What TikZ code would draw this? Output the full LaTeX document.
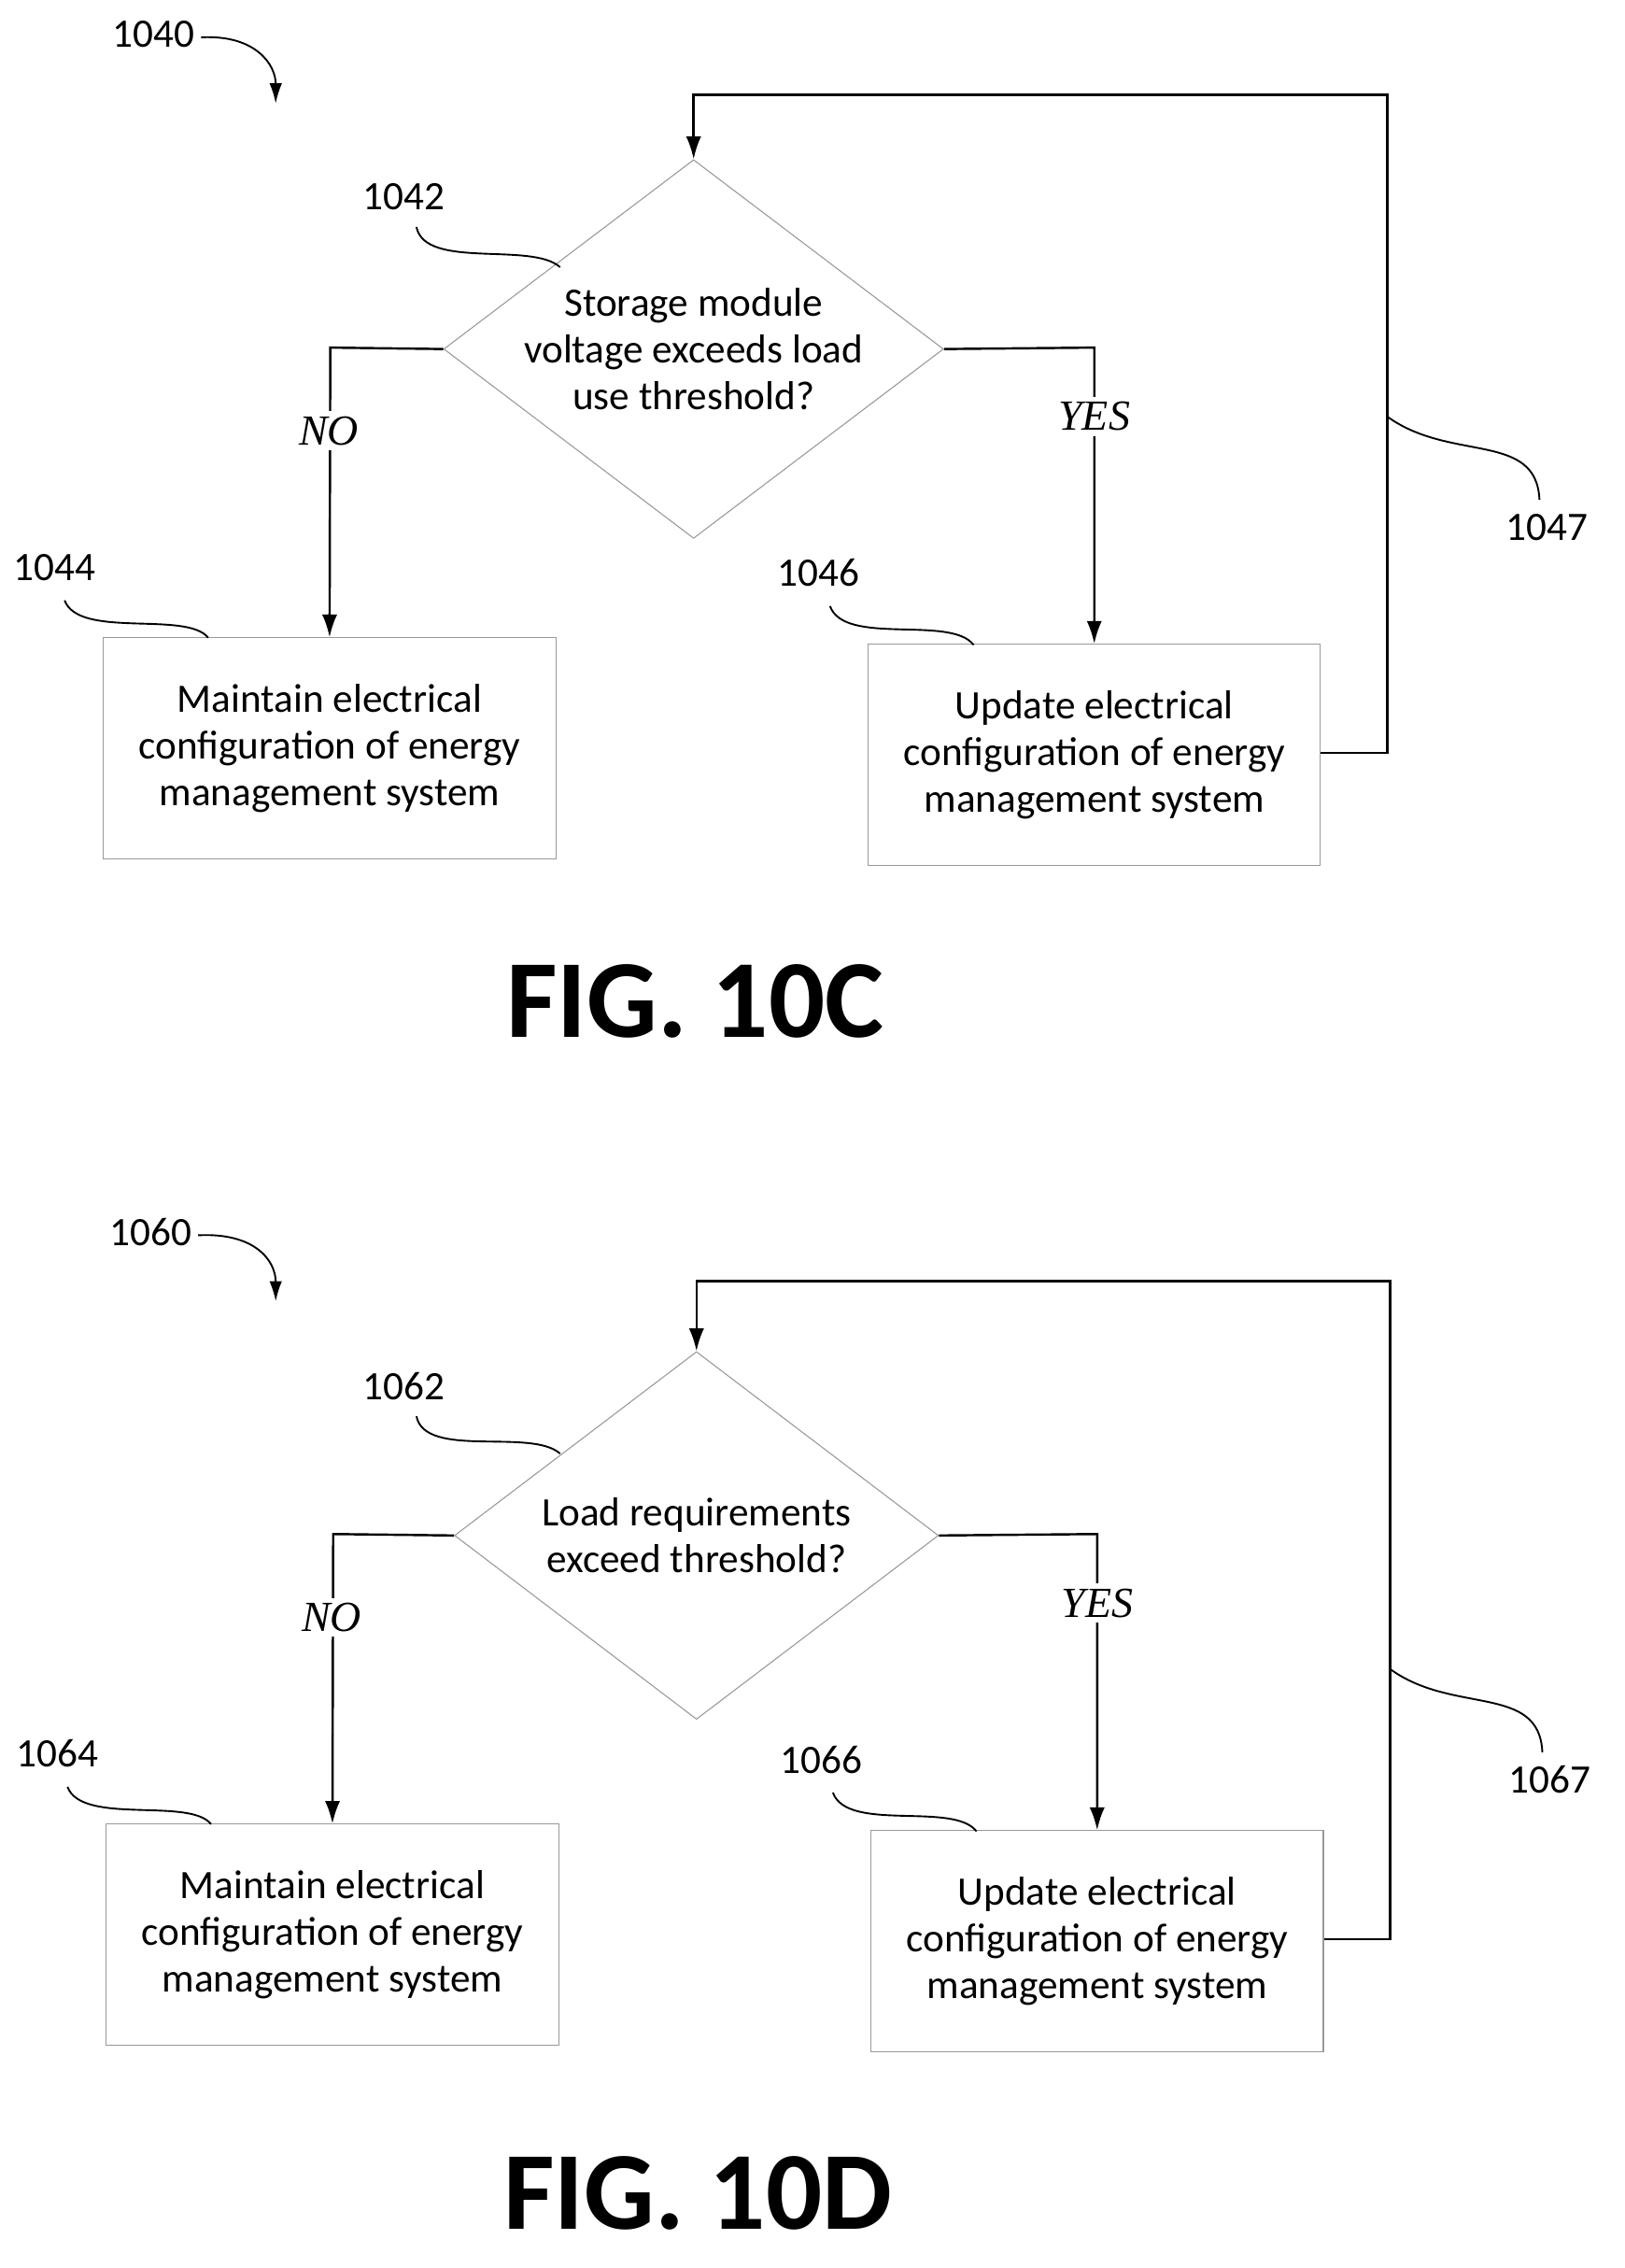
\documentclass[tikz,border=0pt]{standalone}
\usepackage{fontspec}
\setmainfont{Carlito}
\newfontfamily\yesnofont{Liberation Serif}
\usetikzlibrary{arrows.meta,shapes.geometric}
\tikzset{
  decision/.style={diamond, aspect=1.32, draw=gray!80, thin, minimum width=337*0.02cm, minimum height=256*0.02cm, inner sep=0pt, align=center, font=\fontsize{16}{18.5}\selectfont},
  action/.style={rectangle, draw=gray!80, thin, minimum width=315*0.02cm, minimum height=154*0.02cm, align=center, font=\fontsize{16}{18.5}\selectfont},
  refnum/.style={font=\fontsize{16}{18}\selectfont},
  branch/.style={fill=white, inner sep=2pt, font=\yesnofont\itshape\fontsize{17}{20}\selectfont},
  flow/.style={-{Latex[length=9pt,width=6pt]}, line width=0.9pt},
  lead/.style={line width=0.7pt},
  figlabel/.style={font=\bfseries\fontsize{44}{50}\selectfont}
}
\begin{document}
\begin{tikzpicture}[x=0.02cm, y=-0.02cm]
\useasboundingbox (0,0) rectangle (1131,1579);
%%%%% FIG. 10C %%%%%
\node[refnum] (n1040) at (107,24) {1040};
\draw[lead,-{Latex[length=8pt,width=5pt]}] (140,26) .. controls (178,24) and (192,45) .. (192,72);
\node[decision] (d1042) at (483,243) {Storage module\\voltage exceeds load\\use threshold?};
\node[action] (b1044) at (229.5,521) {Maintain electrical\\configuration of energy\\management system};
\node[action] (b1046) at (762,525.5) {Update electrical\\configuration of energy\\management system};
\coordinate (c1l) at (230,242);
\coordinate (c1r) at (762,242);
\coordinate (c1a) at (966,524);
\coordinate (c1b) at (966,66);
\coordinate (c1c) at (483,66);
\draw[flow] (d1042.west) -- (c1l) -- (b1044.north);
\draw[flow] (d1042.east) -- (c1r) -- (b1046.north);
\draw[flow] (b1046.east |- c1a) -- (c1a) -- (c1b) -- (c1c) -- (d1042.north);
\node[branch] (no1) at (229,300) {NO};
\node[branch] (yes1) at (762,290) {YES};
\node[refnum] (n1042) at (281,137) {1042};
\draw[lead] (290,158) .. controls (296,188) and (370,168) .. (390,186);
\node[refnum] (n1044) at (38,395) {1044};
\draw[lead] (45,418) .. controls (55,445) and (130,425) .. (145,444);
\node[refnum] (n1046) at (570,399) {1046};
\draw[lead] (578,422) .. controls (588,450) and (662,428) .. (678,449);
\node[refnum] (n1047) at (1077,367) {1047};
\draw[lead] (966,290) .. controls (1010,322) and (1070,300) .. (1072,348);
\node[figlabel] (f10c) at (484,697) {FIG. 10C};
%%%%% FIG. 10D %%%%%
\begin{scope}[shift={(2,826)}]
\node[refnum] (n1060) at (103,32) {1060};
\draw[lead,-{Latex[length=8pt,width=5pt]}] (136,34) .. controls (176,32) and (190,52) .. (190,80);
\node[decision] (d1062) at (483,243) {Load requirements\\exceed threshold?};
\node[action] (b1064) at (229.5,521) {Maintain electrical\\configuration of energy\\management system};
\node[action] (b1066) at (762,525.5) {Update electrical\\configuration of energy\\management system};
\coordinate (c2l) at (230,242);
\coordinate (c2r) at (762,242);
\coordinate (c2a) at (966,524);
\coordinate (c2b) at (966,66);
\coordinate (c2c) at (483,66);
\draw[flow] (d1062.west) -- (c2l) -- (b1064.north);
\draw[flow] (d1062.east) -- (c2r) -- (b1066.north);
\draw[flow] (b1066.east |- c2a) -- (c2a) -- (c2b) -- (c2c) -- (d1062.north);
\node[branch] (no2) at (229,300) {NO};
\node[branch] (yes2) at (762,290) {YES};
\node[refnum] (n1062) at (279,139) {1062};
\draw[lead] (288,160) .. controls (294,190) and (368,168) .. (388,186);
\node[refnum] (n1064) at (38,395) {1064};
\draw[lead] (45,418) .. controls (55,445) and (130,425) .. (145,444);
\node[refnum] (n1066) at (570,399) {1066};
\draw[lead] (578,422) .. controls (588,450) and (662,428) .. (678,449);
\node[refnum] (n1067) at (1077,413) {1067};
\draw[lead] (966,336) .. controls (1010,368) and (1070,346) .. (1072,394);
\node[figlabel] (f10d) at (484,701) {FIG. 10D};
\end{scope}
\end{tikzpicture}
\end{document}
